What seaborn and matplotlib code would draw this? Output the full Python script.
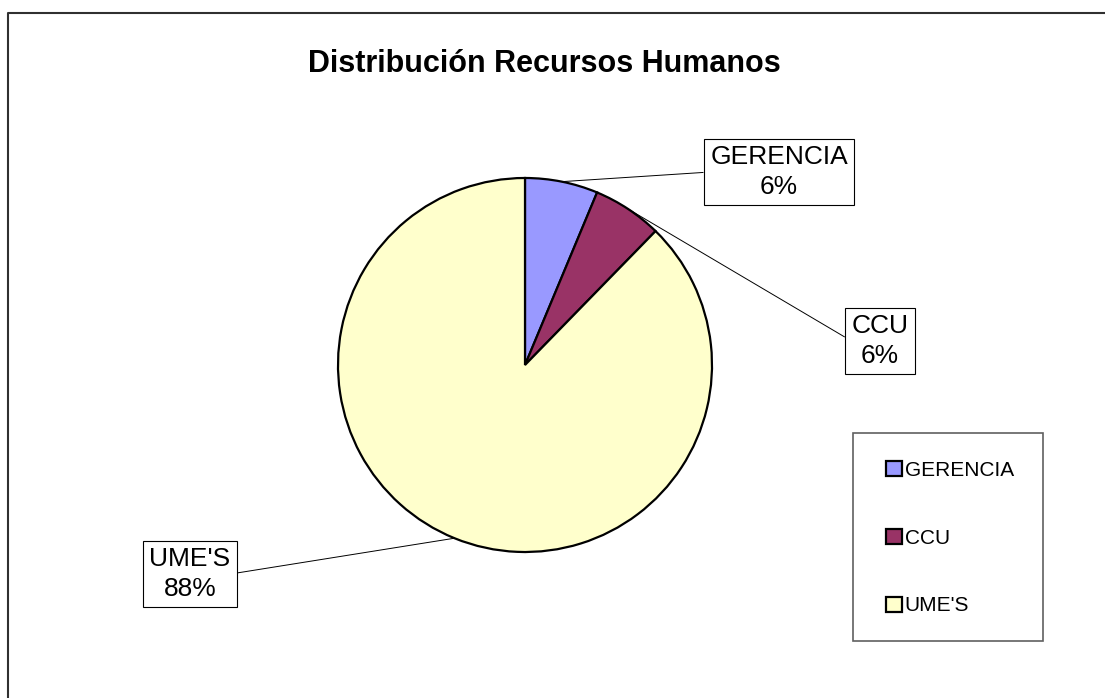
import numpy as np
import seaborn as sns
import matplotlib.pyplot as plt
from matplotlib.lines import Line2D
from matplotlib.patches import Rectangle

# datos
categorias = ["GERENCIA", "CCU", "UME'S"]
porcentajes = [6.3, 6.0, 87.7]
colores = ["#9999FF", "#993366", "#FFFFCC"]

sns.set_theme(style="white")
plt.rcParams['font.family'] = ['Liberation Sans', 'DejaVu Sans']
plt.rcParams['text.color'] = 'black'

fig = plt.figure(figsize=(11.05, 6.98), dpi=100)
ax = fig.add_axes([0, 0, 1, 1])

H = 698
centro = (525, H - 365)
radio = 187

wedges, _ = ax.pie(porcentajes, colors=colores, startangle=90, counterclock=False,
                   center=centro, radius=radio,
                   wedgeprops=dict(edgecolor="black", linewidth=1.6))

ax.set_xlim(0, 1105)
ax.set_ylim(0, H)
ax.set_aspect("equal")
ax.axis("off")

# borde exterior (solo izquierda y arriba visibles)
ax.add_line(Line2D([7.5, 7.5, 1105], [0, H - 12.5, H - 12.5], color="#303030", linewidth=1.5))

ax.text(544, H - 64, "Distribución Recursos Humanos", ha="center", va="center",
        fontsize=22, fontweight="bold", color="black")

# posiciones de las etiquetas (centro de la caja, píxeles)
pos_etiquetas = [(779, H - 172), (880, H - 341), (190, H - 574)]
for w, cat, pct, (tx, ty) in zip(wedges, categorias, porcentajes, pos_etiquetas):
    ang = np.deg2rad((w.theta1 + w.theta2) / 2)
    px = centro[0] + radio * np.cos(ang)
    py = centro[1] + radio * np.sin(ang)
    relx = 0 if tx > px else 1
    ax.annotate(f"{cat}\n{pct:.0f}%", xy=(px, py), xytext=(tx, ty),
                ha="center", va="center", fontsize=19, linespacing=1.3, color="black",
                bbox=dict(boxstyle="square,pad=0.25", facecolor="white", edgecolor="black", linewidth=0.8),
                arrowprops=dict(arrowstyle="-", color="black", linewidth=0.7,
                                relpos=(relx, 0.5), shrinkA=0, shrinkB=0))

# caja de la leyenda
ax.add_patch(Rectangle((853, H - 641), 1043 - 853, 641 - 433, facecolor="white",
                       edgecolor="#606060", linewidth=1.2, zorder=4))

leg = ax.legend(wedges, categorias, loc="center left", bbox_to_anchor=(886 / 1105, (H - 538) / H),
                fontsize=15, frameon=False,
                handlelength=0.75, handleheight=0.75, handletextpad=0.15,
                labelspacing=2.35, borderpad=0, borderaxespad=0)
leg.set_zorder(5)
for t in leg.get_texts():
    t.set_color("black")

fig.savefig("out.png", dpi=100)
